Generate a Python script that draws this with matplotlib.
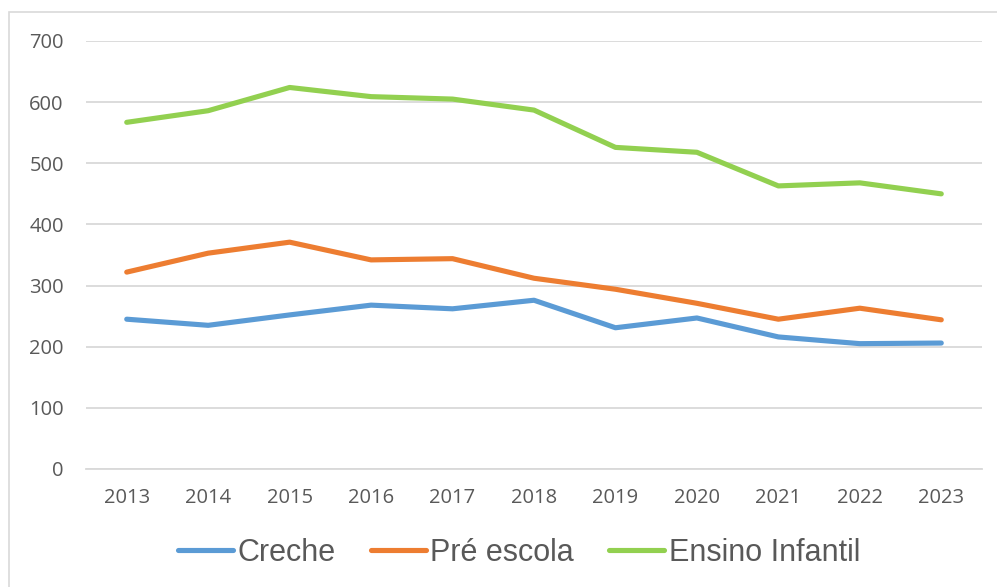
import matplotlib
matplotlib.use("Agg")
from matplotlib import pyplot as plt
from matplotlib.patches import Rectangle

anos = ['2013', '2014', '2015', '2016', '2017', '2018', '2019', '2020', '2021', '2022', '2023']
creche = [245, 235, 252, 268, 262, 276, 231, 247, 216, 205, 206]
pre_escola = [322, 353, 371, 342, 344, 312, 294, 271, 245, 263, 244]
ensino_infantil = [567, 586, 624, 609, 605, 587, 526, 518, 463, 468, 450]

cores = ['#5b9bd5', '#ed7d31', '#92d050']
grelha = '#d9d9d9'
texto = '#595959'

fig = plt.figure(figsize=(9.97, 5.87), dpi=100)
# moldura do grafico
fig.patches.append(Rectangle((9 / 997, -0.1), 1.2, 1 - 12 / 587 + 0.1, transform=fig.transFigure,
                             fill=False, edgecolor=grelha, linewidth=1.2))
ax = fig.add_axes([86 / 997, 1 - 469 / 587, (982 - 86) / 997, (469 - 41) / 587])

x = list(range(len(anos)))
ax.plot(x, creche, color=cores[0], linewidth=3.7, solid_capstyle='round', label='Creche')
ax.plot(x, pre_escola, color=cores[1], linewidth=3.7, solid_capstyle='round', label='Pré escola')
ax.plot(x, ensino_infantil, color=cores[2], linewidth=3.7, solid_capstyle='round', label='Ensino Infantil')

ax.set_xlim(-0.5, len(anos) - 0.5)
ax.set_ylim(0, 700)
ax.set_yticks(range(0, 701, 100))
ax.set_xticks(x)
ax.set_xticklabels(anos)
ax.grid(axis='y', color=grelha, linewidth=1.3)
ax.set_axisbelow(True)
for s in ['top', 'right', 'left']:
    ax.spines[s].set_visible(False)
ax.spines['bottom'].set_color(grelha)
ax.spines['bottom'].set_linewidth(1.3)
ax.tick_params(axis='both', length=0, colors=texto, labelsize=14.5)
ax.tick_params(axis='y', pad=16)
ax.tick_params(axis='x', pad=14)
for lab in ax.get_xticklabels() + ax.get_yticklabels():
    lab.set_fontfamily('Open Sans')

leg = fig.legend(loc='center', bbox_to_anchor=(519 / 997, 1 - 553 / 587), ncol=3, frameon=False,
                 prop={'family': 'Liberation Sans', 'size': 22}, handlelength=1.8,
                 handletextpad=0.15, columnspacing=1.15)
for t in leg.get_texts():
    t.set_color(texto)

fig.savefig('out.png', dpi=100)
